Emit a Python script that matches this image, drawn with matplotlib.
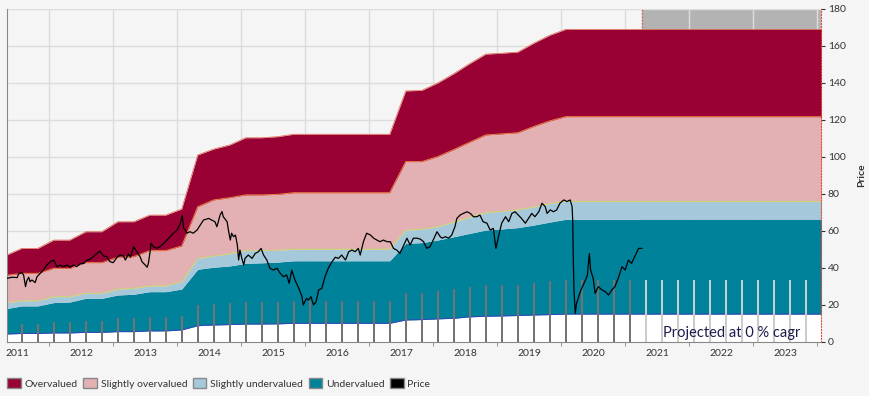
import numpy as np
import matplotlib
matplotlib.use("Agg")
import matplotlib.pyplot as plt
from matplotlib.patches import Patch

plt.rcParams['font.family'] = ['Lato', 'DejaVu Sans']

# quarterly valuation nodes (chart years), last node = end of projection
node_t = list(np.arange(-1, 35) * 0.25 + 2011.07) + [2023.6]

band_l0 = [4.3, 4.6, 4.6, 4.9, 4.9, 5.2, 5.2, 5.6, 5.6, 6.0, 6.0, 6.5, 8.8, 9.2, 9.4, 9.7, 9.7, 9.8,
           10.1, 10.1, 10.1, 10.1, 10.1, 10.1, 10.1, 11.9, 12.1, 12.5, 12.8, 13.6, 13.9, 14.1, 14.3,
           14.6, 14.8, 15.1, 15.1]
band_l1 = [18.0, 19.5, 19.5, 21.3, 21.6, 23.6, 23.6, 25.4, 25.8, 27.2, 27.2, 28.6, 39.3, 40.4, 41.1,
           42.5, 42.8, 43.2, 43.9, 43.9, 43.9, 43.9, 43.9, 43.9, 43.9, 53.3, 53.7, 55.1, 56.9, 58.7,
           60.5, 61.1, 61.8, 63.2, 64.8, 66.3, 66.3]
band_l2 = [21.1, 22.3, 22.3, 24.5, 24.5, 26.3, 26.3, 28.5, 29.0, 30.3, 30.3, 32.6, 45.2, 46.5, 47.6,
           49.4, 49.4, 49.6, 50.1, 50.1, 50.1, 50.1, 50.1, 50.1, 50.1, 60.5, 60.9, 62.3, 64.8, 67.4,
           69.9, 70.6, 71.4, 73.0, 74.8, 76.0, 76.0]
band_l3 = [36.0, 37.1, 37.1, 39.8, 39.8, 42.9, 42.9, 45.8, 46.1, 49.4, 49.4, 51.9, 73.1, 76.8, 78.0,
           79.5, 79.5, 79.8, 80.7, 80.7, 80.7, 80.7, 80.7, 80.7, 80.7, 97.5, 97.5, 100.2, 104.0, 108.0,
           111.9, 112.5, 113.1, 116.5, 119.5, 121.8, 121.8]
band_l4 = [46.8, 50.6, 50.6, 55.1, 55.1, 59.6, 59.6, 65.0, 65.0, 68.6, 68.6, 71.9, 101.1, 104.3, 106.5,
           110.4, 110.4, 111.0, 112.3, 112.3, 112.3, 112.3, 112.3, 112.3, 112.3, 135.7, 136.0, 140.0,
           145.0, 150.5, 155.6, 156.1, 156.7, 161.5, 165.8, 169.0, 169.0]

# quarterly bars
bar_t = np.arange(50) * 0.25 + 2011.07
bar_h = [9.7, 9.7, 10.8, 10.8, 11.5, 11.5, 12.8, 12.8, 13.5, 13.5, 14.1, 20.0, 20.5, 21.1, 21.8, 21.8,
         21.8, 22.3, 22.3, 22.3, 22.3, 22.3, 22.3, 22.3, 26.7, 26.7, 27.6, 28.8, 29.7, 31.0, 31.0, 31.0,
         31.9, 32.8, 33.5, 33.5, 33.5, 33.5, 33.5, 33.5, 33.5, 33.5, 33.5, 33.5, 33.5, 33.5, 33.5, 33.5,
         33.5, 33.5]
proj_start = 2020.77

price_t = [2010.84, 2010.92, 2011.00, 2011.02, 2011.07, 2011.10, 2011.13, 2011.15, 2011.18, 2011.20,
           2011.23, 2011.25, 2011.28, 2011.31, 2011.36, 2011.41, 2011.46, 2011.52, 2011.57, 2011.62,
           2011.67, 2011.72, 2011.78, 2011.83, 2011.88, 2011.93, 2011.98, 2012.04, 2012.09, 2012.14,
           2012.19, 2012.25, 2012.29, 2012.35, 2012.40, 2012.45, 2012.50, 2012.56, 2012.61, 2012.66,
           2012.69, 2012.74, 2012.77, 2012.82, 2012.87, 2012.92, 2012.95, 2013.00, 2013.03, 2013.05,
           2013.08, 2013.09, 2013.13, 2013.18, 2013.23, 2013.29, 2013.34, 2013.39, 2013.44, 2013.50,
           2013.55, 2013.58, 2013.60, 2013.63, 2013.65, 2013.70, 2013.75, 2013.81, 2013.86, 2013.91,
           2013.99, 2014.04, 2014.09, 2014.12, 2014.17, 2014.20, 2014.22, 2014.28, 2014.30, 2014.33,
           2014.35, 2014.38, 2014.41, 2014.44, 2014.46, 2014.48, 2014.51, 2014.54, 2014.56, 2014.61,
           2014.67, 2014.72, 2014.77, 2014.81, 2014.85, 2014.90, 2014.95, 2015.00, 2015.06, 2015.11,
           2015.16, 2015.21, 2015.25, 2015.29, 2015.34, 2015.40, 2015.45, 2015.47, 2015.52, 2015.55,
           2015.59, 2015.63, 2015.67, 2015.71, 2015.76, 2015.81, 2015.86, 2015.92, 2015.97, 2016.02,
           2016.07, 2016.13, 2016.18, 2016.23, 2016.28, 2016.33, 2016.36, 2016.41, 2016.46, 2016.52,
           2016.57, 2016.62, 2016.67, 2016.72, 2016.78, 2016.83, 2016.88, 2016.93, 2016.98, 2017.04,
           2017.09, 2017.14, 2017.19, 2017.25, 2017.30, 2017.35, 2017.40, 2017.45, 2017.50, 2017.56,
           2017.61, 2017.64, 2017.69, 2017.74, 2017.79, 2017.84, 2017.87, 2017.92, 2017.97, 2018.03,
           2018.08, 2018.13, 2018.18, 2018.23, 2018.28, 2018.34, 2018.39, 2018.44, 2018.48, 2018.52,
           2018.57, 2018.63, 2018.68, 2018.73, 2018.78, 2018.83, 2018.88, 2018.94, 2018.99, 2019.04,
           2019.09, 2019.15, 2019.20, 2019.25, 2019.28, 2019.33, 2019.38, 2019.43, 2019.48, 2019.54,
           2019.59, 2019.64, 2019.67, 2019.68, 2019.69, 2019.70, 2019.72, 2019.74, 2019.79, 2019.82,
           2019.88, 2019.91, 2019.94, 2019.96, 2020.00, 2020.03, 2020.08, 2020.14, 2020.19, 2020.24,
           2020.29, 2020.34, 2020.40, 2020.45, 2020.50, 2020.55, 2020.60, 2020.66, 2020.71, 2020.76]
price_v = [34.4, 35.0, 34.8, 36.8, 37.5, 36.2, 29.9, 33.1, 35.0, 32.6,
           33.5, 33.0, 32.1, 35.3, 37.1, 38.9, 41.6, 43.4, 44.3, 40.7,
           41.6, 40.7, 41.6, 40.4, 41.6, 40.7, 42.2, 42.5, 44.3, 44.7,
           46.1, 47.9, 49.2, 46.5, 46.1, 43.4, 42.9, 45.8, 47.0, 46.5,
           44.3, 47.6, 45.8, 51.5, 48.8, 46.1, 43.4, 41.6, 40.4, 42.5,
           49.7, 53.3, 51.5, 50.6, 51.5, 53.3, 55.1, 56.9, 58.8, 60.5,
           64.2, 68.3, 61.4, 60.5, 58.8, 59.6, 58.8, 60.5, 63.2, 65.9,
           66.8, 65.9, 65.0, 62.3, 68.6, 70.5, 67.7, 65.0, 60.5, 55.1,
           58.8, 56.9, 57.8, 52.4, 44.3, 49.7, 45.2, 41.6, 45.2, 47.0,
           45.2, 47.9, 48.8, 50.6, 47.0, 44.3, 39.8, 38.9, 39.8, 37.1,
           35.3, 36.2, 31.7, 38.9, 33.5, 29.0, 24.5, 20.0, 23.6, 22.7,
           24.5, 20.0, 21.8, 28.1, 29.0, 35.3, 39.8, 43.4, 45.8, 45.2,
           47.0, 44.3, 48.8, 49.7, 48.8, 50.6, 47.0, 54.2, 58.8, 57.8,
           56.1, 55.1, 54.2, 55.1, 54.2, 54.2, 50.6, 49.7, 47.9, 52.4,
           56.1, 52.4, 56.1, 56.1, 55.6, 54.2, 50.6, 51.5, 55.1, 59.6,
           56.9, 56.1, 56.9, 56.1, 57.8, 62.3, 66.8, 68.6, 69.5, 70.4,
           69.5, 67.7, 67.7, 68.6, 65.0, 64.2, 60.5, 61.4, 50.6, 56.9,
           64.2, 67.7, 65.0, 69.5, 70.4, 68.6, 66.8, 64.2, 66.8, 69.5,
           67.7, 70.4, 75.0, 73.2, 69.5, 71.4, 70.4, 71.4, 75.0, 76.8,
           75.9, 76.8, 73.2, 65.9, 42.5, 28.1, 15.5, 20.9, 26.3, 29.0,
           33.5, 36.2, 47.9, 38.9, 34.4, 26.3, 29.9, 28.1, 27.2, 25.4,
           28.1, 29.9, 35.3, 40.7, 38.9, 44.3, 42.5, 47.0, 50.6, 50.6]

year_labels = ['2011', '2012', '2013', '2014', '2015', '2016', '2017', '2018', '2019', '2020',
               '2021', '2022', '2023']

c_over = '#990033'
c_sover = '#e3b1b4'
c_sunder = '#a5c9da'
c_under = '#00829b'
bg = '#f5f5f5'

fig = plt.figure(figsize=(8.7, 3.96), dpi=100, facecolor=bg)
ax = fig.add_axes([0.008, 0.1364, 0.9357, 0.8409])
ax.set_facecolor(bg)

x0, x1 = 2010.84, 2023.56
ax.set_xlim(x0, x1)
ax.set_ylim(0, 180)

# projection area
ax.axvspan(proj_start, x1, color='#b3b3b3', zorder=0.5)
ax.axvline(proj_start, color='#e05040', ls=':', lw=0.9, zorder=0.6)

ax.fill_between(node_t, 0, band_l0, color='white', lw=0, zorder=1)
ax.fill_between(node_t, band_l0, band_l1, color=c_under, lw=0, zorder=1)
ax.fill_between(node_t, band_l1, band_l2, color=c_sunder, lw=0, zorder=1)
ax.fill_between(node_t, band_l2, band_l3, color=c_sover, lw=0, zorder=1)
ax.fill_between(node_t, band_l3, band_l4, color=c_over, lw=0, zorder=1)
ax.plot(node_t, band_l0, color='#3344bb', lw=0.7, zorder=1.2)
ax.plot(node_t, band_l2, color='#c8d870', lw=0.7, zorder=1.2)
ax.plot(node_t, band_l3, color='#f08040', lw=0.7, zorder=1.2)
ax.plot(node_t, band_l4, color='#e06040', lw=0.5, zorder=1.2)

bar_cols = ['#737373' if t < proj_start else '#cccccc' for t in bar_t]
ax.bar(bar_t, bar_h, width=0.032, color=bar_cols, zorder=2)

ax.plot(price_t, price_v, color='black', lw=0.9, zorder=3)

ax.text(2023.24, 4.9, 'Projected at 0 % cagr', ha='right', va='center', fontsize=10.5,
        color='#1c1c4c', zorder=4)

# axes styling
ax.set_xticks(range(2011, 2024))
ax.set_xticklabels(year_labels)
ax.set_xticks(np.arange(2011.5, 2024, 1.0), minor=True)
ax.tick_params(axis='x', which='major', length=0, labelsize=7.5, colors='#333333', pad=5)
ax.tick_params(axis='x', which='minor', length=3, color='#888888')
ax.grid(True, which='minor', axis='x', color='#dddddd', lw=1, zorder=0)
ax.set_yticks(range(0, 181, 20))
ax.yaxis.tick_right()
ax.yaxis.set_label_position('right')
ax.tick_params(axis='y', length=3, labelsize=7.5, colors='#333333', pad=2)
ax.grid(True, which='major', axis='y', color='#dddddd', lw=1, zorder=0)
ax.set_ylabel('Price', fontsize=7.5, color='#333333', labelpad=8, fontweight='bold')
ax.set_axisbelow(True)

ax.spines['top'].set_visible(False)
ax.spines['left'].set_color('#888888')
ax.spines['bottom'].set_color('#888888')
ax.spines['right'].set_color('#e05040')
ax.spines['right'].set_linestyle(':')

handles = [Patch(facecolor=c_over, edgecolor='#888888', label='Overvalued'),
           Patch(facecolor=c_sover, edgecolor='#888888', label='Slightly overvalued'),
           Patch(facecolor=c_sunder, edgecolor='#888888', label='Slightly undervalued'),
           Patch(facecolor=c_under, edgecolor='#888888', label='Undervalued'),
           Patch(facecolor='black', edgecolor='#888888', label='Price')]
leg = fig.legend(handles=handles, loc='lower left', bbox_to_anchor=(0.0, 0.0), ncol=5,
                 frameon=False, fontsize=7.5, handlelength=1.3, handleheight=1.1,
                 handletextpad=0.35, columnspacing=0.55, borderaxespad=0.3)
for t in leg.get_texts():
    t.set_color('#333333')

fig.savefig('out.png', dpi=100, facecolor=bg)
